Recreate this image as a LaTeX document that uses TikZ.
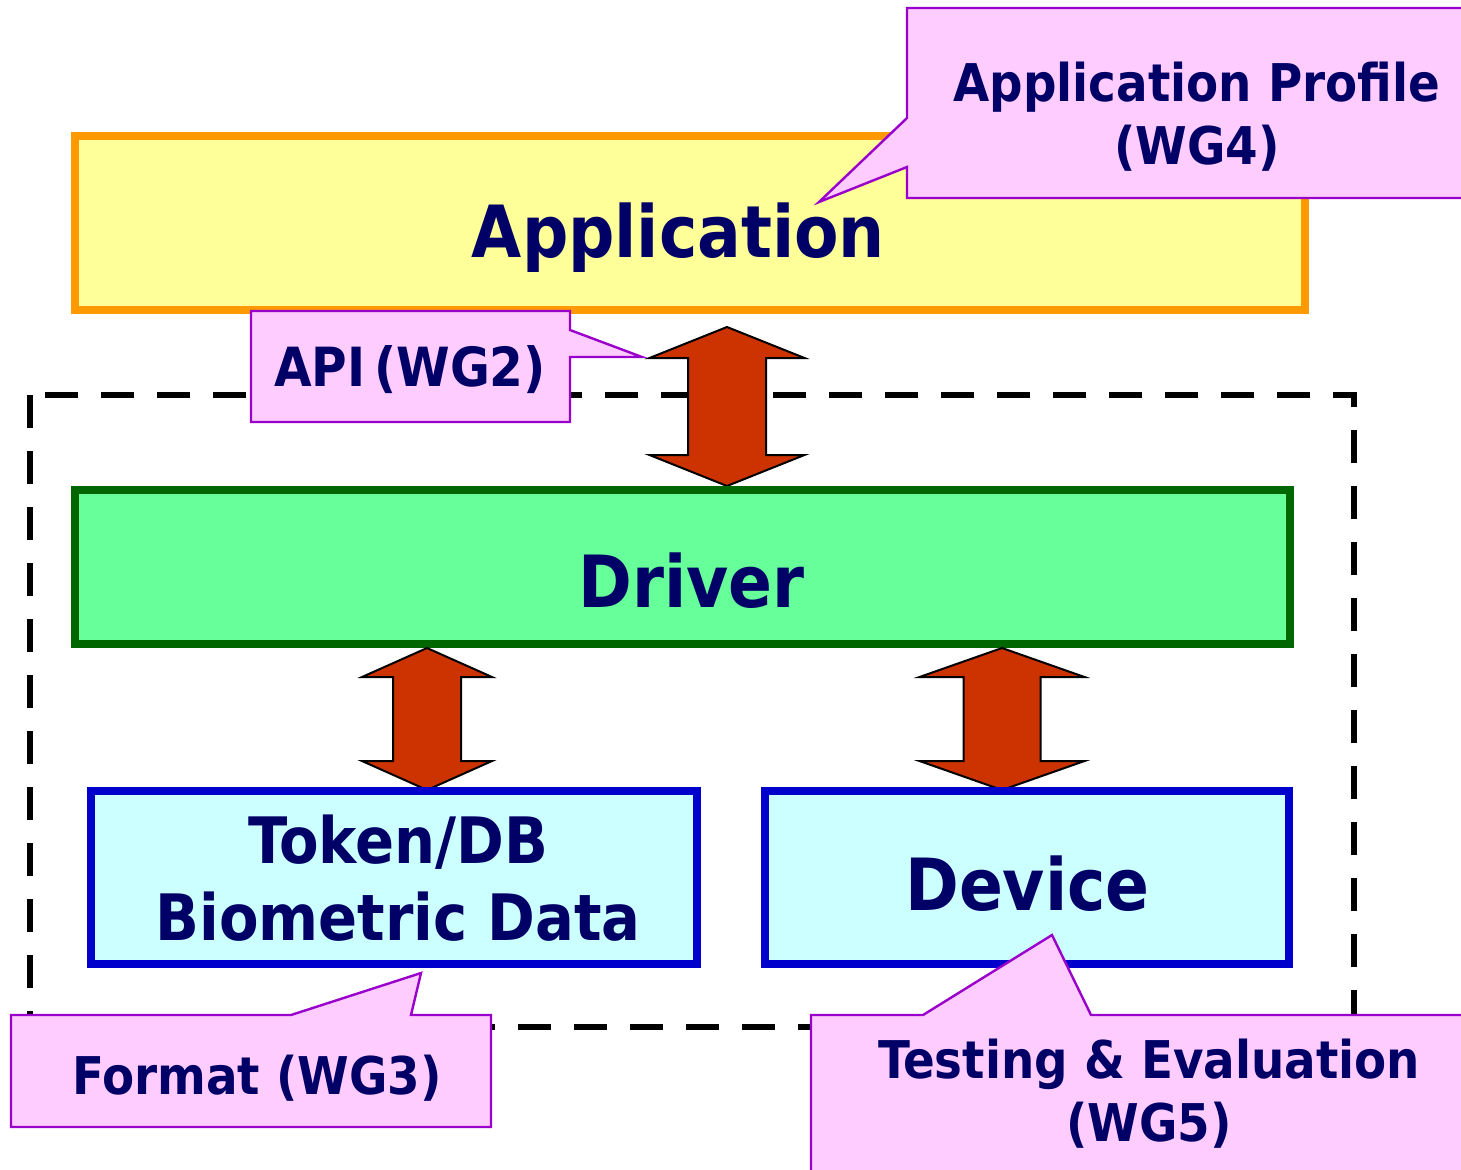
\documentclass[tikz,border=0pt]{standalone}
\usepackage{fontspec}
\setmainfont{DejaVu Sans Condensed}
\usetikzlibrary{calc}

\definecolor{navytext}{HTML}{000066}
\definecolor{appfill}{HTML}{FFFF99}
\definecolor{appline}{HTML}{FF9900}
\definecolor{drvfill}{HTML}{66FF99}
\definecolor{drvline}{HTML}{006600}
\definecolor{datafill}{HTML}{CCFFFF}
\definecolor{dataline}{HTML}{0000CC}
\definecolor{notefill}{HTML}{FFCCFF}
\definecolor{noteline}{HTML}{9900CC}
\definecolor{arrowfill}{HTML}{CC3300}

% fat double arrow: top, bottom, half shaft, half head, head length
\newcommand{\fatarrow}[5]{%
    \path[fatarrow] let \p1=#1, \p2=#2 in
        (\x1,\y1) -- (\x1+#4,\y1-#5) -- (\x1+#3,\y1-#5)
        -- (\x2+#3,\y2+#5) -- (\x2+#4,\y2+#5) -- (\x2,\y2)
        -- (\x2-#4,\y2+#5) -- (\x2-#3,\y2+#5)
        -- (\x1-#3,\y1-#5) -- (\x1-#4,\y1-#5) -- cycle;}

\begin{document}
\begin{tikzpicture}[
    x=0.5pt, y=-0.5pt,
    line join=miter,
    layer/.style={
        draw,
        line width=4pt,
        rectangle,
        inner sep=0pt
    },
    appbox/.style={layer, draw=appline, fill=appfill,
        minimum width=615pt, minimum height=87pt},
    drvbox/.style={layer, draw=drvline, fill=drvfill,
        minimum width=607.5pt, minimum height=77pt},
    databox/.style={layer, draw=dataline, fill=datafill,
        minimum height=86.5pt},
    bigtext/.style={text=navytext, font=\fontsize{36}{43}\selectfont\bfseries, inner sep=0pt},
    datatext/.style={text=navytext, font=\fontsize{32}{38.5}\selectfont\bfseries,
        align=center, inner sep=0pt},
    notetext/.style={text=navytext, font=\fontsize{26}{31.5}\selectfont\bfseries,
        align=center, inner sep=0pt},
    callout/.style={draw=noteline, fill=notefill, line width=1.2pt},
    scopebox/.style={draw=black, line width=3pt, dash pattern=on 16.5pt off 11.5pt},
    fatarrow/.style={draw=black, fill=arrowfill, line width=1pt}
]
\useasboundingbox (0,0) rectangle (1461,1169);
\clip (0,0) rectangle (1461,1169);

% =========================
% Application layer
% =========================
\node[appbox] (app) at (690,222.5) {};
\node[bigtext, anchor=base] (apptext) at (678.5,257) {Application};

% profile callout (WG4)
\path[callout] (907,8) -- (1470,8) -- (1470,198) -- (907,198)
    -- (907,167) -- (819,202) -- (907,118) -- cycle;
\node[notetext] (wgfour) at (1197,117) {Application Profile\\(WG4)};

% =========================
% Scope of the framework
% =========================
\draw[scopebox] (30,395) rectangle (1354,1027);

\coordinate (apitop) at (727,327);
\coordinate (apibot) at (727,486);
\fatarrow{(apitop)}{(apibot)}{19.5pt}{38.75pt}{15.5pt}

% API callout (WG2)
\path[callout] (251,311) -- (570,311) -- (570,330) -- (642,357)
    -- (570,357) -- (570,422) -- (251,422) -- cycle;
\node[notetext, font=\fontsize{27}{32}\selectfont\bfseries, anchor=base]
    (wgtwo) at (410,386) {API\,(WG2)};

% =========================
% Driver and below
% =========================
\node[drvbox] (drv) at (682.5,567) {};
\node[bigtext, anchor=base] (drvtext) at (691.5,607) {Driver};

\coordinate (fmttop) at (427,648);
\coordinate (fmtbot) at (427,790);
\coordinate (devtop) at (1002,648);
\coordinate (devbot) at (1002,790);
\fatarrow{(fmttop)}{(fmtbot)}{17pt}{32.5pt}{14.5pt}
\fatarrow{(devtop)}{(devbot)}{19.25pt}{41.25pt}{14.5pt}

\node[databox, minimum width=303pt] (token) at (394,877.5) {};
\node[datatext] (tokentext) at (398,878) {Token/DB\\Biometric Data};

\node[databox, minimum width=262pt] (dev) at (1027,877.5) {};
\node[bigtext, anchor=base] (devtext) at (1027.5,910) {Device};

% =========================
% Callouts WG3 / WG5
% =========================
\path[callout] (11,1015) -- (291,1015) -- (421,973) -- (411,1015)
    -- (491,1015) -- (491,1127) -- (11,1127) -- cycle;
\node[notetext, anchor=base] (wgthree) at (257,1094) {Format (WG3)};

\path[callout] (811,1015) -- (923,1015) -- (1052,935) -- (1091,1015)
    -- (1470,1015) -- (1470,1180) -- (811,1180) -- cycle;
\node[notetext] (wgfive) at (1149,1094) {Testing \& Evaluation\\(WG5)};

\end{tikzpicture}
\end{document}
